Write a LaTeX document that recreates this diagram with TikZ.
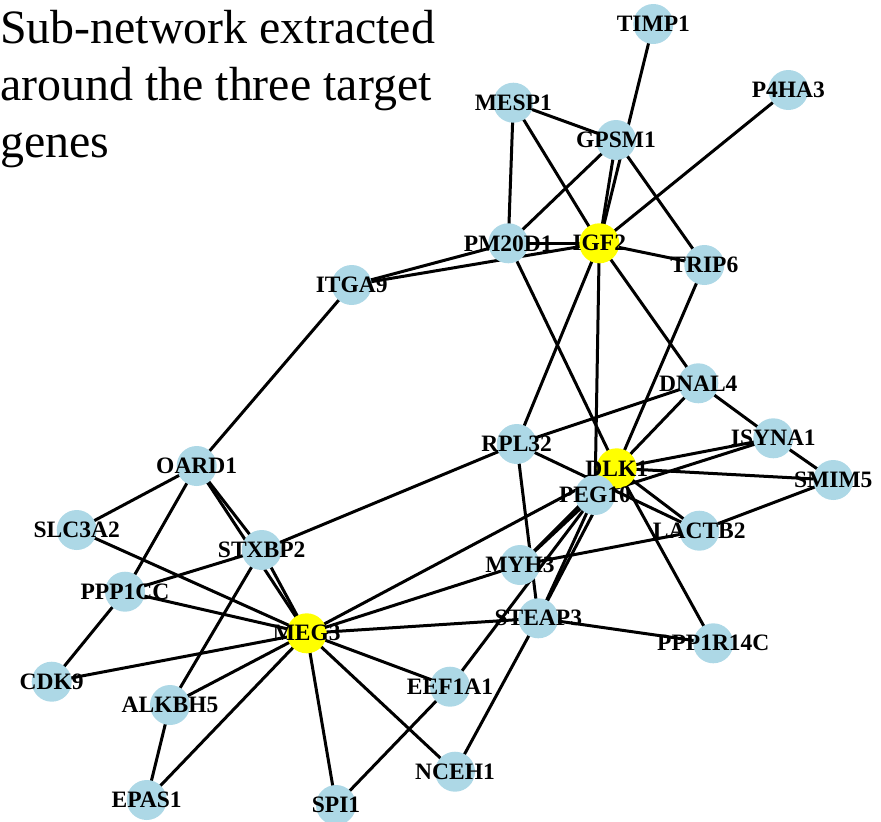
\documentclass[tikz,border=0pt]{standalone}
\usepackage{fontspec}
\setmainfont{Liberation Serif}
\usetikzlibrary{backgrounds}
\definecolor{gblue}{RGB}{173,216,230}
\definecolor{gyellow}{RGB}{255,255,0}
\begin{document}
\begin{tikzpicture}[x=1pt,y=-1pt,
  gene/.style={circle,fill=gblue,draw=none,minimum size=40pt,inner sep=0pt},
  target/.style={gene,fill=gyellow},
  lab/.style={font=\bfseries\fontsize{23.5}{23.5}\selectfont,inner sep=0pt,text=black},
  ttl/.style={anchor=base west,inner sep=0pt,font=\fontsize{47.9}{57}\selectfont},
  edge/.style={line width=3pt,black}]
\useasboundingbox (0,0) rectangle (881,822);

\node[ttl] (title1) at (0,43) {Sub-network extracted};
\node[ttl] (title2) at (0,100) {around the three target};
\node[ttl] (title3) at (0,157) {genes};

% nodes
\node[gene] (TIMP1) at (653.3,24) {};
\node[gene] (P4HA3) at (788.3,90) {};
\node[gene] (MESP1) at (513.3,102.7) {};
\node[gene] (GPSM1) at (616,140) {};
\node[gene] (PM20D1) at (508.3,243.3) {};
\node[target] (IGF2) at (599.3,243.3) {};
\node[gene] (TRIP6) at (704.3,265) {};
\node[gene] (ITGA9) at (351.7,285) {};
\node[gene] (DNAL4) at (698.3,383.3) {};
\node[gene] (ISYNA1) at (773.3,438.3) {};
\node[gene] (SMIM5) at (833.3,480) {};
\node[gene] (RPL32) at (516.7,444) {};
\node[target] (DLK1) at (616.7,468.3) {};
\node[gene] (PEG10) at (595,495) {};
\node[gene] (LACTB2) at (699.3,530.7) {};
\node[gene] (MYH3) at (520,565) {};
\node[gene] (STEAP3) at (538.3,618.3) {};
\node[gene] (PPP1R14C) at (713.3,643.3) {};
\node[gene] (OARD1) at (196.7,466) {};
\node[gene] (STXBP2) at (261.7,550) {};
\node[target] (MEG3) at (306.7,633.3) {};
\node[gene] (SLC3A2) at (76.7,530) {};
\node[gene] (PPP1CC) at (125,591.7) {};
\node[gene] (CDK9) at (51.7,681.7) {};
\node[gene] (ALKBH5) at (170,705) {};
\node[gene] (EPAS1) at (146.7,800) {};
\node[gene] (EEF1A1) at (450,686.7) {};
\node[gene] (NCEH1) at (455,771.7) {};
\node[gene] (SPI1) at (336,805) {};

% labels
\foreach \n in {TIMP1,P4HA3,MESP1,GPSM1,PM20D1,IGF2,TRIP6,ITGA9,DNAL4,ISYNA1,SMIM5,RPL32,DLK1,PEG10,LACTB2,MYH3,STEAP3,PPP1R14C,OARD1,STXBP2,MEG3,SLC3A2,PPP1CC,CDK9,ALKBH5,EPAS1,EEF1A1,NCEH1,SPI1}
  \node[lab] (\n-t) at (\n.center) {\n};

% edges
\begin{scope}[on background layer]
\foreach \a/\b in {TIMP1/IGF2,GPSM1/IGF2,P4HA3/IGF2,MESP1/GPSM1,MESP1/PM20D1,MESP1/IGF2,
  GPSM1/PM20D1,GPSM1/TRIP6,IGF2/TRIP6,PM20D1/IGF2,ITGA9/PM20D1,ITGA9/IGF2,ITGA9/OARD1,
  PM20D1/DLK1,DLK1/PPP1R14C,IGF2/RPL32,IGF2/PEG10,IGF2/DNAL4,TRIP6/DLK1,DNAL4/DLK1,
  DNAL4/ISYNA1,DNAL4/RPL32,ISYNA1/SMIM5,ISYNA1/DLK1,ISYNA1/PEG10,DLK1/SMIM5,SMIM5/LACTB2,
  LACTB2/MYH3,RPL32/LACTB2,DLK1/LACTB2,RPL32/STEAP3,RPL32/STXBP2,PEG10/MYH3,DLK1/MYH3,
  PEG10/STEAP3,DLK1/STEAP3,PEG10/EEF1A1,STEAP3/PPP1R14C,MEG3/STEAP3,MEG3/DLK1,MEG3/MYH3,
  MEG3/EEF1A1,MEG3/NCEH1,MEG3/SPI1,MEG3/EPAS1,MEG3/ALKBH5,MEG3/CDK9,MEG3/PPP1CC,MEG3/SLC3A2,
  MEG3/STXBP2,OARD1/STXBP2,OARD1/MEG3,OARD1/SLC3A2,OARD1/PPP1CC,STXBP2/PPP1CC,STXBP2/ALKBH5,
  CDK9/PPP1CC,ALKBH5/EPAS1,EEF1A1/SPI1,NCEH1/STEAP3}
  \draw[edge] (\a.center) -- (\b.center);
\end{scope}
\end{tikzpicture}
\end{document}
